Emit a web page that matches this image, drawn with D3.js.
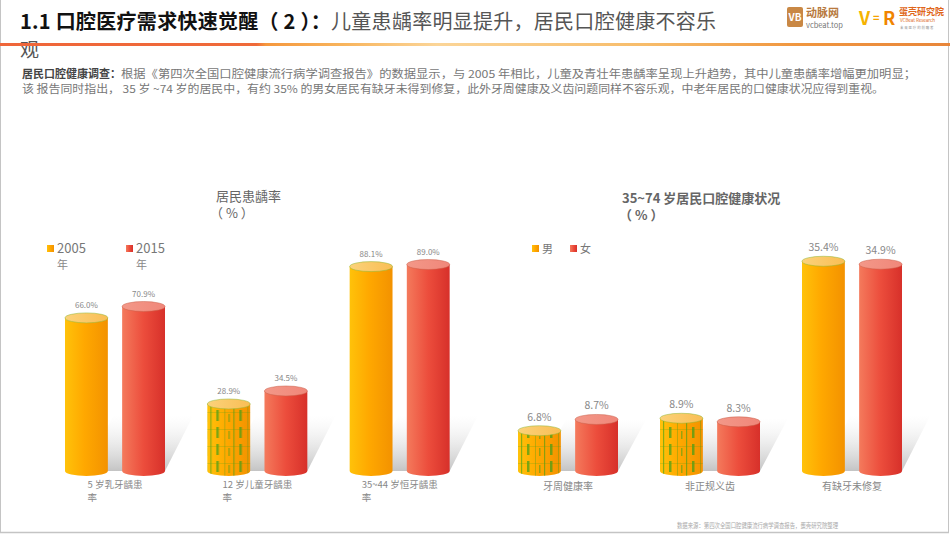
<!DOCTYPE html>
<html>
<head>
<meta charset="utf-8">
<script src="https://cdn.jsdelivr.net/npm/d3@7"></script>
<style>
  body { margin: 0; background: #fff; }
  svg { display: block; font-family: "Noto Sans CJK SC", "Noto Sans", sans-serif; }
</style>
</head>
<body>
<svg id="chart" width="950" height="535"></svg>
<script>
// left chart: caries rate
const cariesGroups = ["5 岁乳牙龋患率", "12 岁儿童牙龋患率", "35~44 岁恒牙龋患率"];
const cariesYears = ["2005 年", "2015 年"];
const caries2005 = [66.0, 28.9, 88.1];
const caries2015 = [70.9, 34.5, 89.0];

// right chart: 35~74 oral health
const healthGroups = ["牙周健康率", "非正规义齿", "有缺牙未修复"];
const healthSex = ["男", "女"];
const healthMale = [6.8, 8.9, 35.4];
const healthFemale = [8.7, 8.3, 34.9];

const svg = d3.select("#chart");
const defs = svg.append("defs");

// gradients for cylinders
function hGrad(id, stops) {
    let g = defs.append("linearGradient").attr("id", id)
        .attr("x1", "0%").attr("x2", "100%").attr("y1", "0%").attr("y2", "0%");
    stops.forEach(s => g.append("stop").attr("offset", s[0]).attr("stop-color", s[1]));
}
hGrad("orangeBody", [["0%", "#FFC20A"], ["45%", "#FFA800"], ["100%", "#F39200"]]);
hGrad("redBody", [["0%", "#F47A5C"], ["50%", "#EC4D3C"], ["100%", "#D7302A"]]);
hGrad("orangeTop", [["0%", "#FBD27A"], ["100%", "#F9BE55"]]);
hGrad("redTop", [["0%", "#F39888"], ["100%", "#F0877A"]]);
hGrad("rule", [["0%", "#EF663A"], ["27%", "#EF6A3A"], ["28%", "#F5983E"], ["36%", "#F8B45C"],
               ["46%", "#FBD598"], ["68%", "#F7BC6A"], ["84%", "#F0963F"], ["100%", "#E8863A"]]);

let sh = defs.append("linearGradient").attr("id", "shadow")
    .attr("x1", "0%").attr("x2", "0%").attr("y1", "100%").attr("y2", "0%");
sh.append("stop").attr("offset", "0%").attr("stop-color", "#bdbdbd").attr("stop-opacity", 0.9);
sh.append("stop").attr("offset", "100%").attr("stop-color", "#e6e6e6").attr("stop-opacity", 0);

// green speckle seen on some bars of the original rendering
let pat = defs.append("pattern").attr("id", "speckle").attr("patternUnits", "userSpaceOnUse")
    .attr("width", 23).attr("height", 17);
pat.append("rect").attr("width", 23).attr("height", 17).attr("fill", "none");
pat.append("rect").attr("x", 1).attr("width", 1.2).attr("height", 17).attr("fill", "#2E9E1A").attr("opacity", 0.7);
pat.append("rect").attr("x", 7).attr("y", 2).attr("width", 2.5).attr("height", 11).attr("fill", "#2E9E1A").attr("opacity", 0.8);
pat.append("rect").attr("x", 15).attr("width", 0.8).attr("height", 17).attr("fill", "#2E9E1A").attr("opacity", 0.5);
pat.append("rect").attr("x", 19).attr("y", 6).attr("width", 1.5).attr("height", 8).attr("fill", "#2E9E1A").attr("opacity", 0.6);
pat.append("rect").attr("y", 4).attr("width", 23).attr("height", 0.6).attr("fill", "#2E9E1A").attr("opacity", 0.4);
const speckled = {"left-1-0": true, "right-0-0": true, "right-1-0": true};

// frame
svg.append("line").attr("x1", 0.5).attr("x2", 0.5).attr("y1", 0).attr("y2", 533).attr("stroke", "#c4c4c4");
svg.append("line").attr("x1", 948.5).attr("x2", 948.5).attr("y1", 0).attr("y2", 533).attr("stroke", "#c4c4c4");
svg.append("line").attr("x1", 0).attr("x2", 949).attr("y1", 532.5).attr("y2", 532.5).attr("stroke", "#c4c4c4").attr("stroke-width", 1.5);

// header
let title = svg.append("text").attr("x", 20).attr("y", 29).attr("font-size", 20)
    .attr("textLength", 696).attr("lengthAdjust", "spacing");
title.append("tspan").attr("font-weight", "bold").attr("fill", "#111").text("1.1  口腔医疗需求快速觉醒（ 2 ）：");
title.append("tspan").attr("fill", "#555").text("儿童患龋率明显提升，居民口腔健康不容乐");
svg.append("text").attr("x", 20).attr("y", 57).attr("font-size", 19).attr("fill", "#555").text("观");
svg.append("rect").attr("x", 0).attr("y", 43).attr("width", 950).attr("height", 3).attr("fill", "url(#rule)");

// logos
let logo = svg.append("g");
logo.append("rect").attr("x", 787).attr("y", 7).attr("width", 16).attr("height", 20).attr("rx", 2).attr("fill", "#C98845");
logo.append("text").attr("x", 795).attr("y", 21).attr("text-anchor", "middle").attr("font-size", 10)
    .attr("font-weight", "bold").attr("fill", "#fff").text("VB");
logo.append("text").attr("x", 806).attr("y", 17).attr("font-size", 11).attr("font-weight", "bold")
    .attr("fill", "#B87A3E").text("动脉网");
logo.append("text").attr("x", 806).attr("y", 28).attr("font-size", 7.5).attr("fill", "#777").text("vcbeat.top");
logo.append("text").attr("x", 859).attr("y", 25).attr("font-size", 18).attr("font-weight", "bold")
    .attr("fill", "#F5B300").text("V");
logo.append("text").attr("x", 873).attr("y", 22).attr("font-size", 11).attr("font-weight", "bold")
    .attr("fill", "#F5A300").text("=");
logo.append("text").attr("x", 883).attr("y", 25).attr("font-size", 18).attr("font-weight", "bold")
    .attr("fill", "#F08400").text("R");
logo.append("text").attr("x", 899).attr("y", 15).attr("font-size", 9).attr("font-weight", "bold")
    .attr("fill", "#E0661A").text("蛋壳研究院");
logo.append("text").attr("x", 900).attr("y", 22).attr("font-size", 4.5).attr("fill", "#E0661A").text("VCBeat Research");
logo.append("text").attr("x", 900).attr("y", 28.5).attr("font-size", 3.5).attr("fill", "#999")
    .text("未 来 医 疗 的 前 瞻 者");

// intro text
let l1 = svg.append("text").attr("x", 22).attr("y", 78).attr("font-size", 11);
l1.append("tspan").attr("font-weight", "bold").attr("fill", "#444").text("居民口腔健康调查：");
l1.append("tspan").attr("fill", "#777").attr("textLength", 795).attr("lengthAdjust", "spacingAndGlyphs")
    .text("根据《第四次全国口腔健康流行病学调查报告》的数据显示，与 2005 年相比，儿童及青壮年患龋率呈现上升趋势，其中儿童患龋率增幅更加明显；");
svg.append("text").attr("x", 22).attr("y", 93).attr("font-size", 11).attr("fill", "#777")
    .attr("textLength", 862).attr("lengthAdjust", "spacingAndGlyphs")
    .text("该  报告同时指出， 35 岁 ~74 岁的居民中，有约 35% 的男女居民有缺牙未得到修复，此外牙周健康及义齿问题同样不容乐观，中老年居民的口健康状况应得到重视。");

// footnote
svg.append("text").attr("x", 677).attr("y", 528).attr("font-size", 7).attr("fill", "#aaa")
    .attr("textLength", 161).attr("lengthAdjust", "spacingAndGlyphs")
    .text("数据来源：第四次全国口腔健康流行病学调查报告，蛋壳研究院整理");

const base = 471;

function drawChart(opts) {
    let g = svg.append("g");
    let x0 = d3.scaleBand().domain(opts.groups).range(opts.xRange).padding(0);
    let x1 = d3.scaleBand().domain(opts.series).range([21, 121]).paddingInner(0.25).paddingOuter(0);
    let y = d3.scaleLinear().domain(opts.yDomain).range([base, opts.yTop]);
    let rows = opts.groups.map((grp, i) => ({grp: grp, vals: opts.values.map(v => v[i])}));

    // titles
    g.append("text").attr("x", opts.titleX).attr("y", opts.titleY).attr("font-size", 13)
        .attr("fill", "#666").attr("font-weight", opts.titleBold ? "bold" : "normal").text(opts.title);
    g.append("text").attr("x", opts.unitX).attr("y", opts.titleY + 17).attr("font-size", 13)
        .attr("fill", "#666").attr("font-weight", opts.titleBold ? "bold" : "normal").text("（ % ）");

    // legend
    opts.series.forEach((s, i) => {
        let lx = opts.legendX[i];
        g.append("rect").attr("x", lx).attr("y", opts.legendY - 8).attr("width", 7).attr("height", 7)
            .attr("fill", i === 0 ? "url(#orangeBody)" : "url(#redBody)");
        let parts = s.split(" ");
        g.append("text").attr("x", lx + 10).attr("y", opts.legendY).attr("font-size", opts.legendSize)
            .attr("fill", "#777").text(parts[0]);
        if (parts[1]) {
            g.append("text").attr("x", lx + 10).attr("y", opts.legendY + 16).attr("font-size", 11)
                .attr("fill", "#888").text(parts[1]);
        }
    });

    let grpG = g.selectAll(".grp").data(rows).enter().append("g")
        .attr("transform", d => "translate(" + x0(d.grp) + ",0)");

    // soft shadows behind the pairs
    grpG.each(function(d) {
        let xr = x1(opts.series[1]) + x1.bandwidth();
        let hgt = Math.min(base - y(d3.max(d.vals)), 55);
        d3.select(this).append("polygon")
            .attr("points", [[x1(opts.series[0]) + 20, base], [xr, base], [xr + 28, base - hgt],
                             [x1(opts.series[0]) + 48, base - hgt]].map(p => p.join(",")).join(" "))
            .attr("fill", "url(#shadow)");
    });

    grpG.each(function(d, gi) {
        let sel = d3.select(this);
        d.vals.forEach((v, si) => {
            let bx = x1(opts.series[si]), bw = x1.bandwidth(), ty = y(v);
            let rx = bw / 2, ry = 5;
            let body = si === 0 ? "url(#orangeBody)" : "url(#redBody)";
            let top = si === 0 ? "url(#orangeTop)" : "url(#redTop)";
            let path = "M" + bx + "," + ty + " L" + bx + "," + base +
                " A" + rx + "," + ry + " 0 0 0 " + (bx + bw) + "," + base +
                " L" + (bx + bw) + "," + ty + " Z";
            sel.append("path").attr("d", path).attr("fill", body);
            if (speckled[opts.key + "-" + gi + "-" + si]) {
                sel.append("path").attr("d", path).attr("fill", "url(#speckle)").attr("opacity", 0.8);
            }
            sel.append("ellipse").attr("cx", bx + rx).attr("cy", ty).attr("rx", rx).attr("ry", ry)
                .attr("fill", top).attr("stroke", si === 0 ? "#8DB83A" : "#C9604A").attr("stroke-width", 0.5);
            sel.append("text").attr("x", bx + rx).attr("y", ty - 10).attr("text-anchor", "middle")
                .attr("font-size", opts.valueSize).attr("fill", "#888").text(v.toFixed(1) + "%");
        });
    });

    // category labels
    grpG.each(function(d) {
        let sel = d3.select(this);
        let cx = 71;
        if (opts.wrapLast) {
            let first = sel.append("text").attr("x", cx).attr("y", base + 17).attr("text-anchor", "middle")
                .attr("font-size", 9.5).attr("fill", "#888").text(d.grp.slice(0, -1));
            let bb = first.node().getBBox();
            sel.append("text").attr("x", bb.x).attr("y", base + 30).attr("font-size", 9.5)
                .attr("fill", "#888").text(d.grp.slice(-1));
        } else {
            sel.append("text").attr("x", cx).attr("y", base + 19).attr("text-anchor", "middle")
                .attr("font-size", 10).attr("fill", "#888").text(d.grp);
        }
    });
}

drawChart({
    key: "left", groups: cariesGroups, series: cariesYears, values: [caries2005, caries2015],
    xRange: [44, 471], yDomain: [0, 100], yTop: base - 232,
    title: "居民患龋率", titleX: 216, titleY: 201, unitX: 210, titleBold: false,
    legendX: [47, 126], legendY: 253, legendSize: 13, valueSize: 8, wrapLast: true
});

drawChart({
    key: "right", groups: healthGroups, series: healthSex, values: [healthMale, healthFemale],
    xRange: [497, 923], yDomain: [0, 40], yTop: base - 237,
    title: "35~74 岁居民口腔健康状况", titleX: 622, titleY: 203, unitX: 619, titleBold: true,
    legendX: [532, 570], legendY: 253, legendSize: 11, valueSize: 10.5, wrapLast: false
});
</script>
</body>
</html>
